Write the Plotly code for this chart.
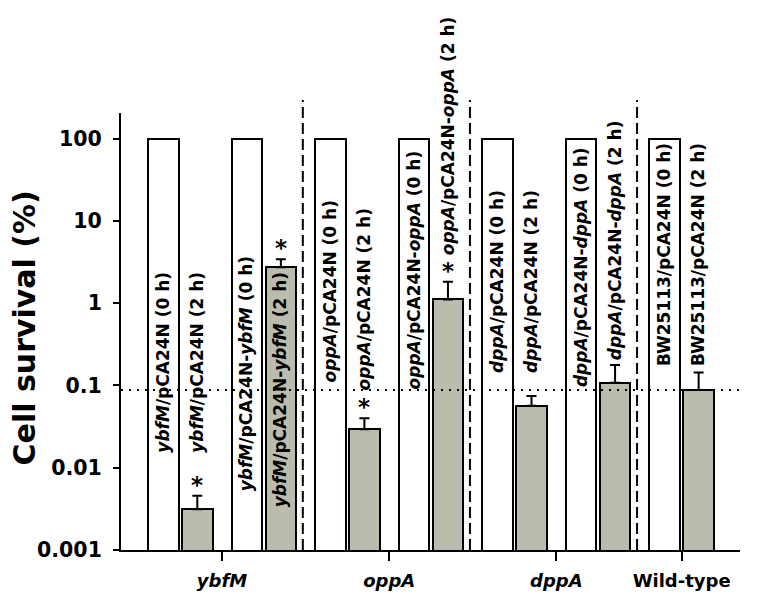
import math
import plotly.graph_objects as go

# ---------------- data ----------------
groups = ["ybfM", "oppA", "dppA", "Wild-type"]
group_italic = [True, True, True, False]
strains = ["<i>ybfM</i>/pCA24N", "<i>ybfM</i>/pCA24N-<i>ybfM</i>",
           "<i>oppA</i>/pCA24N", "<i>oppA</i>/pCA24N-<i>oppA</i>",
           "<i>dppA</i>/pCA24N", "<i>dppA</i>/pCA24N-<i>dppA</i>",
           "BW25113/pCA24N"]
strain_group = [0, 0, 1, 1, 2, 2, 3]
survival_0h = [100, 100, 100, 100, 100, 100, 100]
survival_2h = [0.00312, 2.72, 0.0293, 1.11, 0.0567, 0.108, 0.088]
error_2h = [0.00145, 0.68, 0.0105, 0.71, 0.0176, 0.069, 0.055]
significant = [True, True, True, True, False, False, False]
reference_level = survival_2h[-1]   # wild-type 2 h level (dotted line)

# label anchor (bottom of rotated text), in % units
label_base_0h = [0.0143, 0.00493, 0.104, 0.0855, 0.134, 0.0904, 0.163]
label_base_2h = [0.0143, 0.00315, 0.083, 3.65, 0.134, 0.192, 0.163]

# ---------------- layout helpers ----------------
BAR_W = 0.365
GRAY_OFF = 0.407
FONT = "DejaVu Sans"
GRAY = "#bcbcae"

n = len(strains)
x_white = [p for p in range(n)]
x_gray = [p + GRAY_OFF for p in range(n)]

fig = go.Figure()
fig.add_trace(go.Bar(x=x_white, y=survival_0h, width=BAR_W,
                     marker=dict(color="white", line=dict(color="black", width=2)),
                     showlegend=False, hoverinfo="skip"))
fig.add_trace(go.Bar(x=x_gray, y=survival_2h, width=BAR_W,
                     marker=dict(color=GRAY, line=dict(color="black", width=2)),
                     error_y=dict(type="data", array=error_2h,
                                  arrayminus=[0] * n, symmetric=False,
                                  color="black", thickness=2, width=5),
                     showlegend=False, hoverinfo="skip"))

annotations = []
lab_font = dict(family=FONT, size=17, color="black")
for p in range(n):
    annotations.append(dict(x=x_white[p], y=math.log10(label_base_0h[p]),
                            xref="x", yref="y", text="<b>%s (0 h)</b>" % strains[p],
                            textangle=-90, showarrow=False, xanchor="center",
                            yanchor="bottom", font=lab_font))
    annotations.append(dict(x=x_gray[p], y=math.log10(label_base_2h[p]),
                            xref="x", yref="y", text="<b>%s (2 h)</b>" % strains[p],
                            textangle=-90, showarrow=False, xanchor="center",
                            yanchor="bottom", font=lab_font))
    if significant[p]:
        annotations.append(dict(x=x_gray[p],
                                y=math.log10(survival_2h[p] + error_2h[p]),
                                xref="x", yref="y", text="<b>*</b>",
                                showarrow=False, xanchor="center", yanchor="bottom",
                                yshift=-4, font=dict(family=FONT, size=23, color="black")))

# y-axis title
annotations.append(dict(x=-0.156, y=0.508, xref="paper", yref="paper",
                        text="<b>Cell survival (%)</b>", textangle=-90,
                        showarrow=False, xanchor="center", yanchor="middle",
                        font=dict(family=FONT, size=30, color="black")))

# group tick positions and separators
group_pos = []
separators = []
for g in range(len(groups)):
    ps = [p for p in range(n) if strain_group[p] == g]
    group_pos.append((x_white[ps[0]] + x_gray[ps[-1]]) / 2)
    if g < len(groups) - 1:
        separators.append(ps[-1] + 0.67)

shapes = []
for sx in separators:
    shapes.append(dict(type="line", xref="x", yref="paper", x0=sx, x1=sx,
                       y0=0, y1=1.03, line=dict(color="black", width=2, dash="11px,5px")))
shapes.append(dict(type="line", xref="paper", yref="y", x0=0, x1=1,
                   y0=reference_level, y1=reference_level,
                   line=dict(color="black", width=2, dash="2px,6px")))

group_text = ["<b><i>%s</i></b>" % g if it else "<b>%s</b>" % g
              for g, it in zip(groups, group_italic)]

fig.update_layout(
    width=759, height=601,
    margin=dict(l=113, r=27, t=105, b=59),
    plot_bgcolor="white", paper_bgcolor="white",
    bargap=0, barmode="overlay",
    annotations=annotations, shapes=shapes,
    xaxis=dict(range=[-0.506, 6.902], showgrid=False, zeroline=False,
               showline=True, linecolor="black", linewidth=2,
               tickmode="array", tickvals=group_pos, ticktext=group_text,
               ticks="outside", ticklen=9, tickwidth=2, tickcolor="black",
               ticklabelstandoff=4,
               tickfont=dict(family=FONT, size=18, color="black")),
    yaxis=dict(type="log", range=[-3, 2.31], showgrid=False, zeroline=False,
               showline=True, linecolor="black", linewidth=2,
               tickmode="array", tickvals=[0.001, 0.01, 0.1, 1, 10, 100],
               ticktext=["<b>0.001</b>", "<b>0.01</b>", "<b>0.1</b>", "<b>1</b>",
                         "<b>10</b>", "<b>100</b>"],
               ticks="outside", ticklen=6, tickwidth=2, tickcolor="black",
               ticklabelstandoff=7,
               tickfont=dict(family=FONT, size=20.5, color="black")),
)

fig.write_html("out.html")
